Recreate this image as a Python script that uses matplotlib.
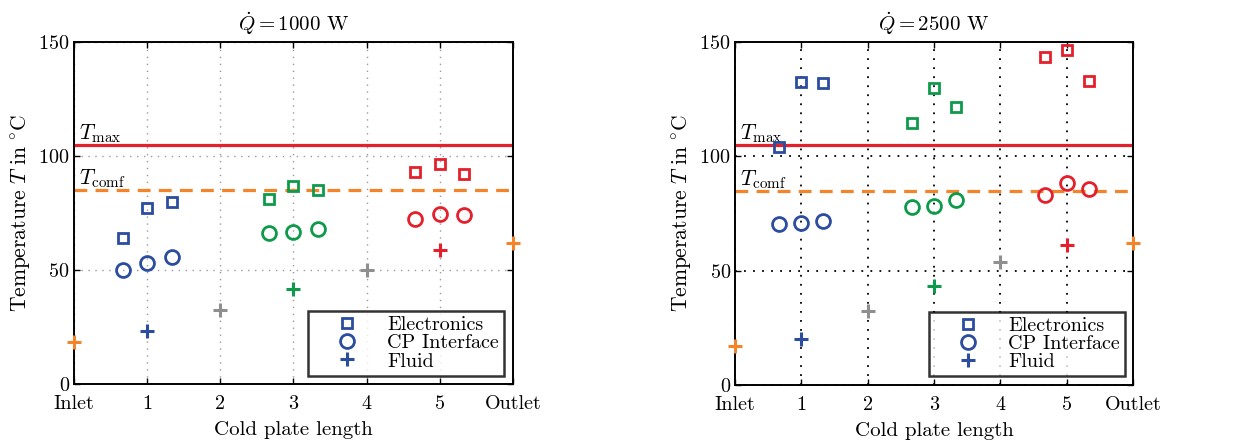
import numpy as np
import matplotlib.pyplot as plt
from matplotlib.lines import Line2D

plt.rcParams['font.family'] = 'serif'
plt.rcParams['font.serif'] = ['cmr10']
plt.rcParams['mathtext.fontset'] = 'cm'
plt.rcParams['axes.formatter.use_mathtext'] = True

blue = '#2b4c9f'
green = '#0d9a4a'
red = '#e4202c'
orange = '#f4842a'
gray = '#8f8f8f'

# positions along the cold plate (0 = inlet, 6 = outlet)
pos_blue = [2/3, 1, 4/3]
pos_green = [8/3, 3, 10/3]
pos_red = [14/3, 5, 16/3]
xtick_pos = [0, 1, 2, 3, 4, 5, 6]
xtick_labels = ['Inlet', '1', '2', '3', '4', '5', 'Outlet']

T_max = 105
T_comf = 85

# Q = 1000 W
elec_1000 = [64, 77.2, 80, 81.1, 87, 84.9, 93, 96.5, 92]
cp_1000 = [50, 52.9, 55.8, 66.1, 66.8, 68.1, 72.5, 74.8, 74.2]
fluid_1000 = [23.2, 41.8, 58.8]          # at x = 1, 3, 5
fluid_mid_1000 = [32.6, 50]              # at x = 2, 4 (gray)
inout_1000 = [18.3, 61.7]                # inlet, outlet

# Q = 2500 W
elec_2500 = [104.2, 132.5, 132, 114.7, 129.8, 121.7, 143.5, 146.6, 132.9]
cp_2500 = [70.5, 70.9, 71.5, 77.9, 78.3, 80.7, 83.2, 88.4, 85.5]
fluid_2500 = [20, 43.3, 61.4]
fluid_mid_2500 = [32.4, 54]
inout_2500 = [17, 62.3]


def panel(ax, title, elec, cp, fluid, fluid_mid, inout, gridcolor, gridlw):
    ax.set_xlim(0, 6)
    ax.set_ylim(0, 150)
    ax.set_xticks(xtick_pos)
    ax.set_xticklabels(xtick_labels)
    ax.set_yticks([0, 50, 100, 150])
    ax.tick_params(direction='in', top=True, right=True, length=4, width=1,
                   labelsize=14.5)
    ax.tick_params(axis='x', pad=8)
    ax.tick_params(axis='y', pad=3)
    ax.grid(True, color=gridcolor, linestyle=(0, (1, 4)), linewidth=gridlw)
    ax.set_axisbelow(True)
    for s in ax.spines.values():
        s.set_linewidth(1.4)

    ax.axhline(T_max, color=red, lw=2.3, zorder=2)
    ax.axhline(T_comf, color=orange, lw=2.3, dashes=(4, 2.6), zorder=2)
    ax.text(0.07, T_max, r'$T_{\mathrm{max}}$', fontsize=15.5, va='bottom', ha='left')
    ax.text(0.07, T_comf, r'$T_{\mathrm{comf}}$', fontsize=15.5, va='bottom', ha='left')

    groups = [(pos_blue, blue), (pos_green, green), (pos_red, red)]
    for i, (p, c) in enumerate(groups):
        ax.plot(p, elec[3*i:3*i+3], 's', ms=7.5, mfc='none', mec=c, mew=2,
                ls='none', zorder=3, clip_on=False)
        ax.plot(p, cp[3*i:3*i+3], 'o', ms=10, mfc='none', mec=c, mew=2,
                ls='none', zorder=3, clip_on=False)
        ax.plot(p[1], fluid[i], '+', ms=10, mec=c, mew=2.2, zorder=3, clip_on=False)
    ax.plot([2, 4], fluid_mid, '+', ms=10, mec=gray, mew=2.2, ls='none', zorder=3)
    ax.plot([0, 6], inout, '+', ms=10, mec=orange, mew=2.2, ls='none', zorder=3,
            clip_on=False)

    ax.set_title(title, fontsize=15, pad=8)
    ax.set_xlabel('Cold plate length', fontsize=15, labelpad=6)
    ax.set_ylabel(r'$\mathrm{Temperature}\ T\ \mathrm{in}\ {}^{\circ}\mathrm{C}$',
                  fontsize=15.5, labelpad=4)

    handles = [
        Line2D([], [], marker='s', ms=7.5, mfc='none', mec=blue, mew=2, ls='none'),
        Line2D([], [], marker='o', ms=10, mfc='none', mec=blue, mew=2, ls='none'),
        Line2D([], [], marker='+', ms=10, mec=blue, mew=2.2, ls='none'),
    ]
    leg = ax.legend(handles, ['Electronics', 'CP Interface', 'Fluid'],
                    loc='lower right', bbox_to_anchor=(0.98, 0.025),
                    fontsize=14.5, frameon=True, fancybox=False, borderaxespad=0,
                    handlelength=3.4, handletextpad=0.3, labelspacing=0.0,
                    borderpad=0.25)
    leg.get_frame().set_edgecolor('black')
    leg.get_frame().set_linewidth(1.8)
    leg.set_zorder(5)


fig = plt.figure(figsize=(12.56, 4.42), dpi=100)
ax1 = fig.add_axes([0.0589, 0.131, 0.3495, 0.774])
ax2 = fig.add_axes([0.5852, 0.129, 0.3169, 0.776])

panel(ax1, r'$\dot{Q} = 1000$ W', elec_1000, cp_1000, fluid_1000,
      fluid_mid_1000, inout_1000, '#9a9a9a', 1.0)
panel(ax2, r'$\dot{Q} = 2500$ W', elec_2500, cp_2500, fluid_2500,
      fluid_mid_2500, inout_2500, 'black', 1.3)

fig.savefig('out.png', dpi=100)
